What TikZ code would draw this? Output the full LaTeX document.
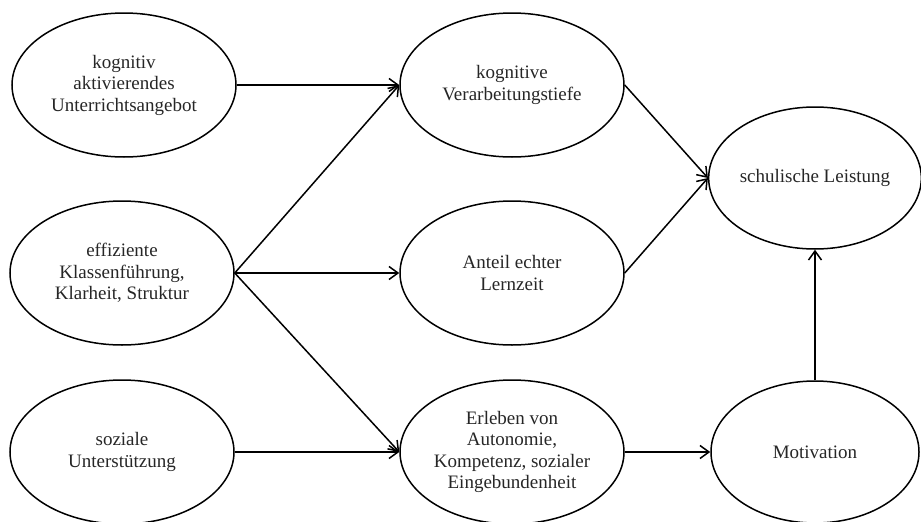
\documentclass[tikz,border=0pt]{standalone}
\usepackage{fontspec}
\setmainfont{Liberation Serif}
\usetikzlibrary{shapes.geometric,arrows.meta}
\begin{document}
\begin{tikzpicture}[x=1pt,y=-1pt,
  oval/.style={ellipse,draw=black,line width=1.5pt,inner sep=0pt,
    minimum width=224pt,minimum height=144pt,align=center,
    text=black!85,font=\fontsize{19}{21.5}\selectfont},
  ovalr/.style={oval,minimum width=208pt,minimum height=142pt},
  conn/.style={line width=1.5pt,-{Straight Barb[length=9pt,width=13pt,line width=1.5pt]}}]
\useasboundingbox (0,0) rectangle (921,522);
\node[oval] (e1) at (124,85) {kognitiv\\aktivierendes\\Unterrichtsangebot};
\node[oval] (e2) at (122,273) {effiziente\\Klassenführung,\\Klarheit, Struktur};
\node[oval] (e3) at (122,452) {soziale\\Unterstützung};
\node[oval] (m1) at (512,85) {kognitive\\Verarbeitungstiefe};
\node[oval] (m2) at (512,273) {Anteil echter\\Lernzeit};
\node[oval] (m3) at (512,452) {Erleben von\\Autonomie,\\Kompetenz, sozialer\\Eingebundenheit};
\node[ovalr] (s) at (815,178) {schulische Leistung};
\node[ovalr] (mot) at (815,452) {Motivation};
\draw[conn] (e1.east) -- (m1.west);
\draw[conn] (e2.east) -- (m1.west);
\draw[conn] (e2.east) -- (m2.west);
\draw[conn] (e2.east) -- (m3.west);
\draw[conn] (e3.east) -- (m3.west);
\draw[conn] (m1.east) -- (s.west);
\draw[conn] (m2.east) -- (s.west);
\draw[conn] (m3.east) -- (mot.west);
\draw[conn] (mot.north) -- (s.south);
\end{tikzpicture}
\end{document}
